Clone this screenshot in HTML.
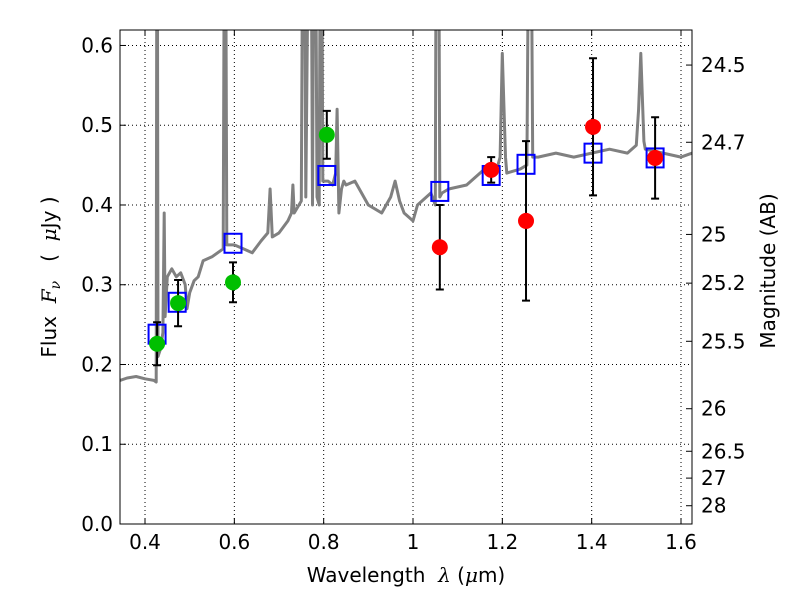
<!DOCTYPE html>
<html><head><meta charset="utf-8"><style>
body{margin:0;background:#fff;}
svg text{font-family:"DejaVu Sans","Liberation Sans",sans-serif;font-size:20px;fill:#000;}
.pre{white-space:pre;}
</style></head><body>
<svg id="c" width="800" height="600" xmlns="http://www.w3.org/2000/svg">
<defs><clipPath id="clip"><rect x="120" y="30" width="572" height="494"/></clipPath></defs>
<g id="grid"></g>
<g id="spec" clip-path="url(#clip)"></g>
<g id="marks" clip-path="url(#clip)"></g>
<g id="axes"></g>
</svg>
<script>
const specLam=[0.344,0.36,0.38,0.40,0.42,0.425,0.427,0.429,0.435,0.44,0.443,0.445,0.447,0.45,0.46,0.47,0.48,0.49,0.494,0.50,0.51,0.519,0.53,0.55,0.575,0.579,0.583,0.60,0.62,0.64,0.66,0.675,0.68,0.685,0.70,0.72,0.728,0.731,0.734,0.75,0.755,0.76,0.77,0.775,0.78,0.785,0.79,0.794,0.798,0.81,0.82,0.827,0.83,0.834,0.84,0.845,0.85,0.87,0.9,0.93,0.95,0.96,0.97,0.98,1.0,1.01,1.04,1.05,1.053,1.056,1.06,1.065,1.08,1.12,1.16,1.19,1.195,1.20,1.207,1.21,1.24,1.255,1.262,1.268,1.28,1.32,1.36,1.40,1.44,1.48,1.50,1.505,1.51,1.517,1.52,1.56,1.60,1.625];
const specFlux=[0.18,0.183,0.185,0.182,0.18,0.178,1.0,0.21,0.22,0.24,0.39,0.26,0.28,0.31,0.32,0.31,0.315,0.30,0.27,0.29,0.305,0.31,0.33,0.335,0.345,1.0,0.35,0.35,0.345,0.34,0.355,0.365,0.42,0.36,0.365,0.38,0.39,0.425,0.39,0.405,1.0,0.41,1.0,0.40,1.0,0.41,0.40,1.0,0.43,0.43,0.425,0.44,0.52,0.39,0.42,0.43,0.425,0.43,0.40,0.39,0.41,0.43,0.405,0.39,0.38,0.40,0.415,0.40,1.0,1.0,0.41,0.415,0.42,0.425,0.445,0.45,0.46,0.59,0.46,0.44,0.445,0.45,1.0,0.46,0.46,0.465,0.46,0.465,0.47,0.465,0.475,0.52,0.59,0.48,0.47,0.465,0.46,0.465];
const greenLam=[0.427,0.474,0.597,0.807];
const greenFlux=[0.226,0.277,0.303,0.488];
const greenErr=[0.027,0.029,0.025,0.03];
const redLam=[1.060,1.175,1.253,1.403,1.542];
const redFlux=[0.347,0.444,0.380,0.498,0.459];
const redErr=[0.053,0.016,0.10,0.086,0.051];
const boxLam=[0.427,0.472,0.597,0.807,1.060,1.175,1.253,1.403,1.542];
const boxFlux=[0.238,0.278,0.352,0.437,0.417,0.437,0.451,0.465,0.459];
const xTicks=[0.4,0.6,0.8,1.0,1.2,1.4,1.6];
const xTickLabels=["0.4","0.6","0.8","1","1.2","1.4","1.6"];
const yTicks=[0,0.1,0.2,0.3,0.4,0.5,0.6];
const yTickLabels=["0.0","0.1","0.2","0.3","0.4","0.5","0.6"];
const magTicks=[24.5,24.7,25,25.2,25.5,26,26.5,27,28];

const L=120,R=692,T=30,B=524,xmin=0.344,xmax=1.6246,ymin=0,ymax=0.6194;
const X=v=>L+(v-xmin)/(xmax-xmin)*(R-L);
const Y=v=>B-(v-ymin)/(ymax-ymin)*(B-T);
const NS="http://www.w3.org/2000/svg";
function mk(tag,attrs,parent){const e=document.createElementNS(NS,tag);for(const k in attrs)e.setAttribute(k,attrs[k]);document.getElementById(parent).appendChild(e);return e;}

xTicks.forEach((t,i)=>{
 const g=mk('line',{x1:X(t),x2:X(t),y1:T,y2:B,stroke:'#000','stroke-width':1,'stroke-dasharray':'1,3'},'grid');
 
 
});
yTicks.forEach((t,i)=>{
 const g=mk('line',{x1:L,x2:R,y1:Y(t),y2:Y(t),stroke:'#000','stroke-width':1,'stroke-dasharray':'1,3'},'grid');
 
 
});

let d='';specLam.forEach((l,i)=>{d+=(i?'L':'M')+X(l).toFixed(1)+','+Y(specFlux[i]).toFixed(1);});
const sp=mk('path',{d:d,fill:'none',stroke:'#808080','stroke-width':3,'stroke-linejoin':'round'},'spec');



boxLam.forEach((l,i)=>{
 const r=mk('rect',{x:X(l)-8.5,y:Y(boxFlux[i])-9.5,width:17,height:19,fill:'none',stroke:'#0000ff','stroke-width':2},'marks');
 
 
});
function pts(lams,fl,er,col,name){
 lams.forEach((l,i)=>{
  const x=X(l),y1=Y(fl[i]-er[i]),y2=Y(fl[i]+er[i]);
  const e=mk('path',{d:`M${x},${y1}L${x},${y2}M${x-4},${y1}L${x+4},${y1}M${x-4},${y2}L${x+4},${y2}`,stroke:'#000','stroke-width':2,fill:'none'},'marks');
  
  
  const c=mk('circle',{cx:x,cy:Y(fl[i]),r:8,fill:col},'marks');
  
  
 });
}
pts(greenLam,greenFlux,greenErr,'#00bf00','green-data-point');
pts(redLam,redFlux,redErr,'#ff0000','red-data-point');

const fr=mk('rect',{x:L,y:T,width:R-L,height:B-T,fill:'none',stroke:'#000','stroke-width':1},'axes');


xTicks.forEach((t,i)=>{
 mk('line',{x1:X(t),x2:X(t),y1:B,y2:B-6,stroke:'#000'},'axes');
 mk('line',{x1:X(t),x2:X(t),y1:T,y2:T+6,stroke:'#000'},'axes');
 const tx=mk('text',{x:X(t),y:B+25,'text-anchor':'middle'},'axes');tx.textContent=xTickLabels[i];
 
 
});
yTicks.forEach((t,i)=>{
 mk('line',{x1:L,x2:L+6,y1:Y(t),y2:Y(t),stroke:'#000'},'axes');
 const tx=mk('text',{x:L-7,y:Y(t)+7,'text-anchor':'end'},'axes');tx.textContent=yTickLabels[i];
 
 
});
magTicks.forEach(m=>{
 const f=Math.pow(10,(23.9-m)/2.5);const y=Y(f);
 mk('line',{x1:R,x2:R-6,y1:y,y2:y,stroke:'#000'},'axes');
 const tx=mk('text',{x:R+9,y:y+7},'axes');tx.textContent=String(m);
 
 
});
</script>
<svg style="position:absolute;left:0;top:0" width="800" height="600" xmlns="http://www.w3.org/2000/svg">
<text class="pre" x="406" y="582" text-anchor="middle" style="font-family:'DejaVu Sans',sans-serif;font-size:20px">Wavelength  <tspan font-family="DejaVu Serif" font-style="italic">λ</tspan> (<tspan font-family="DejaVu Serif" font-style="italic">μ</tspan>m)</text>
<text class="pre" transform="translate(56,277) rotate(-90)" text-anchor="middle" style="font-family:'DejaVu Sans',sans-serif;font-size:20px">Flux  <tspan font-family="DejaVu Serif" font-style="italic">F</tspan><tspan font-family="DejaVu Serif" font-style="italic" font-size="14" dy="4">ν</tspan><tspan dy="-4">   (  </tspan><tspan font-family="DejaVu Serif" font-style="italic">μ</tspan>Jy )</text>
<text class="pre" transform="translate(775,271) rotate(-90)" text-anchor="middle" style="font-family:'DejaVu Sans',sans-serif;font-size:20px">Magnitude (AB)</text>
</svg>
</body></html>
